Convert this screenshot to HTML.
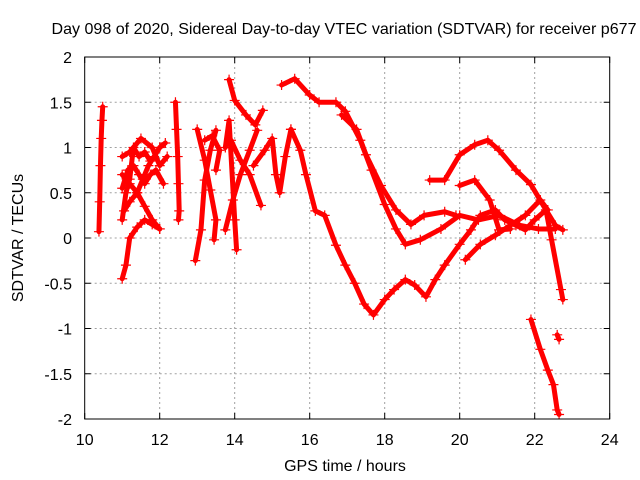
<!DOCTYPE html>
<html><head><meta charset="utf-8"><style>
body{margin:0;background:#fff}
svg{display:block;font-family:"Liberation Sans",sans-serif}
</style></head><body>
<svg id="chart" width="640" height="480" viewBox="0 0 640 480">
<rect width="640" height="480" fill="#fff"/>
<text x="344" y="34" font-size="16" text-anchor="middle" textLength="585" lengthAdjust="spacingAndGlyphs">Day 098 of 2020, Sidereal Day-to-day VTEC variation (SDTVAR) for receiver p677</text>
<text transform="translate(23,238) rotate(-90)" font-size="16" text-anchor="middle">SDTVAR / TECUs</text>
<text x="345" y="471" font-size="16" text-anchor="middle">GPS time / hours</text>
<g id="grid"></g>
<g id="ticks"></g>
<g id="series"></g>
<rect x="84.7" y="57" width="525" height="362" fill="none" stroke="#000" stroke-width="1"/>
</svg>
<script>
const xTicks=[10,12,14,16,18,20,22,24];
const yTicks=[2,1.5,1,0.5,0,-0.5,-1,-1.5,-2];
const yTickLabels=["2","1.5","1","0.5","0","-0.5","-1","-1.5","-2"];
const track1=[[10.38,0.07],[10.4,0.4],[10.42,0.8],[10.44,1.1],[10.46,1.3],[10.48,1.45]];
const track2=[[11.0,-0.45],[11.1,-0.3],[11.2,0.0],[11.4,0.12],[11.6,0.2],[11.8,0.15],[12.0,0.1]];
const track3=[[11.0,0.9],[11.2,0.95],[11.5,1.1],[11.8,1.0],[12.0,0.8],[12.2,0.9]];
const track4=[[11.0,0.7],[11.2,0.6],[11.4,0.5],[11.6,0.35],[11.8,0.2],[12.0,0.1]];
const track5=[[11.05,0.3],[11.2,0.4],[11.4,0.5],[11.55,0.65],[11.7,0.8],[11.85,0.9],[12.0,1.0],[12.15,1.05]];
const track5b=[[11.0,0.55],[11.15,0.75],[11.3,0.8],[11.45,0.7],[11.6,0.6],[11.75,0.7],[11.9,0.75],[12.1,0.6]];
const track5c=[[11.0,0.2],[11.1,0.5],[11.2,0.65],[11.3,1.0],[11.45,0.9],[11.6,0.95],[11.75,0.85]];
const track6=[[12.42,1.5],[12.45,1.2],[12.48,0.9],[12.5,0.6],[12.52,0.3],[12.5,0.2]];
const track7=[[12.95,-0.25],[13.1,0.09],[13.2,0.64],[13.35,0.97],[13.5,1.19]];
const track8=[[13.0,1.2],[13.2,0.86],[13.35,0.53],[13.5,0.2],[13.45,-0.02]];
const track9=[[13.2,1.08],[13.4,1.13],[13.6,0.97],[13.5,0.75]];
const track10=[[13.85,1.75],[14.0,1.52],[14.3,1.36],[14.55,1.25],[14.75,1.41]];
const track11=[[13.9,1.08],[14.15,0.86],[14.4,0.7],[14.7,0.36]];
const track12=[[13.75,0.09],[13.95,0.42],[14.15,0.7],[14.4,0.97],[14.6,1.19]];
const track13=[[14.05,-0.13],[14.0,0.2],[13.85,1.3],[13.75,1.0]];
const track14=[[14.5,0.8],[14.8,0.97],[15.0,1.1],[15.1,0.7],[15.2,0.5],[15.35,0.9],[15.5,1.2]];
const track15=[[15.25,1.69],[15.6,1.76],[16.0,1.58],[16.25,1.5],[16.7,1.5],[16.95,1.4],[17.35,1.08],[17.65,0.75],[18.0,0.37],[18.3,0.1],[18.55,-0.07],[18.95,-0.02],[19.5,0.1],[20.0,0.25],[20.5,0.2],[21.05,0.25],[21.6,0.14],[22.1,0.1],[22.55,0.1]];
const track16=[[15.5,1.2],[15.75,0.97],[15.9,0.7],[16.15,0.3],[16.4,0.25],[16.7,-0.08],[16.95,-0.3],[17.2,-0.5],[17.45,-0.73],[17.7,-0.85],[18.0,-0.68],[18.25,-0.57],[18.55,-0.46],[18.8,-0.52],[19.1,-0.65],[19.35,-0.46],[19.6,-0.3],[20.0,-0.07],[20.3,0.09],[20.55,0.25],[20.95,0.31],[21.2,0.2],[21.5,0.14],[21.75,0.09],[22.0,0.2],[22.3,0.31],[22.45,-0.02],[22.7,-0.57],[22.75,-0.68]];
const track17=[[16.85,1.36],[17.25,1.2],[17.5,0.92],[17.9,0.58],[18.3,0.31],[18.7,0.15],[19.05,0.25],[19.6,0.29],[19.9,0.25]];
const track18=[[19.2,0.64],[19.6,0.64],[20.0,0.92],[20.4,1.03],[20.75,1.08],[21.05,0.97],[21.5,0.75],[21.9,0.59],[22.3,0.31],[22.55,0.14],[22.75,0.09]];
const track19=[[20.0,0.58],[20.4,0.64],[20.8,0.42],[21.05,0.09],[21.35,0.1]];
const track20=[[20.15,-0.24],[20.55,-0.07],[20.95,0.03],[21.35,0.14],[21.75,0.25],[22.15,0.42],[22.35,0.31]];
const track21=[[21.9,-0.9],[22.15,-1.23],[22.35,-1.46],[22.5,-1.62],[22.6,-1.9],[22.65,-1.95]];
const track22=[[22.6,-1.07],[22.65,-1.12]];
const tracks=[track1,track2,track3,track4,track5,track5b,track5c,track6,track7,track8,track9,track10,track11,track12,track13,track14,track15,track16,track17,track18,track19,track20,track21,track22];

const X0=84.7,X1=609.7,Y0=419,Y1=57;
const xs=h=>X0+(h-10)/(24-10)*(X1-X0);
const ys=v=>Y0-(v+2)/4*(Y0-Y1);
const NS="http://www.w3.org/2000/svg";
const grid=document.getElementById('grid'),ticks=document.getElementById('ticks'),series=document.getElementById('series');
function mk(tag,attrs,parent){const e=document.createElementNS(NS,tag);for(const k in attrs)e.setAttribute(k,attrs[k]);parent.appendChild(e);return e;}
xTicks.forEach(t=>{
  const x=xs(t);
  if(t>10&&t<24){const g=mk('line',{x1:x,x2:x,y1:Y1,y2:Y0,stroke:'#a0a0a0','stroke-dasharray':'2,3'},grid);
  
  }
  mk('line',{x1:x,x2:x,y1:Y0,y2:Y0-6,stroke:'#000'},ticks);
  mk('line',{x1:x,x2:x,y1:Y1,y2:Y1+6,stroke:'#000'},ticks);
  const l=mk('text',{x:x,y:445,'font-size':16,'text-anchor':'middle'},ticks);
  l.textContent=t;
  
  
});
yTicks.forEach((t,i)=>{
  const y=ys(t);
  if(t>-2&&t<2){const g=mk('line',{x1:X0,x2:X1,y1:y,y2:y,stroke:'#a0a0a0','stroke-dasharray':'2,3'},grid);
  
  }
  mk('line',{x1:X0,x2:X0+6,y1:y,y2:y,stroke:'#000'},ticks);
  mk('line',{x1:X1,x2:X1-6,y1:y,y2:y,stroke:'#000'},ticks);
  const l=mk('text',{x:72,y:y+6,'font-size':16,'text-anchor':'end'},ticks);
  l.textContent=yTickLabels[i];
  
  
});
tracks.forEach(tr=>{
  const pl=mk('polyline',{points:tr.map(p=>xs(p[0])+','+ys(p[1])).join(' '),fill:'none',stroke:'#f00','stroke-width':5,'stroke-linejoin':'round','stroke-linecap':'round'},series);
  
  
  tr.forEach(p=>{
    const x=xs(p[0]),y=ys(p[1]);
    const m=mk('path',{d:`M${x-5},${y}H${x+5}M${x},${y-5}V${y+5}`,stroke:'#f00','stroke-width':1.2},series);
    
    
  });
});
</script>
</body></html>
